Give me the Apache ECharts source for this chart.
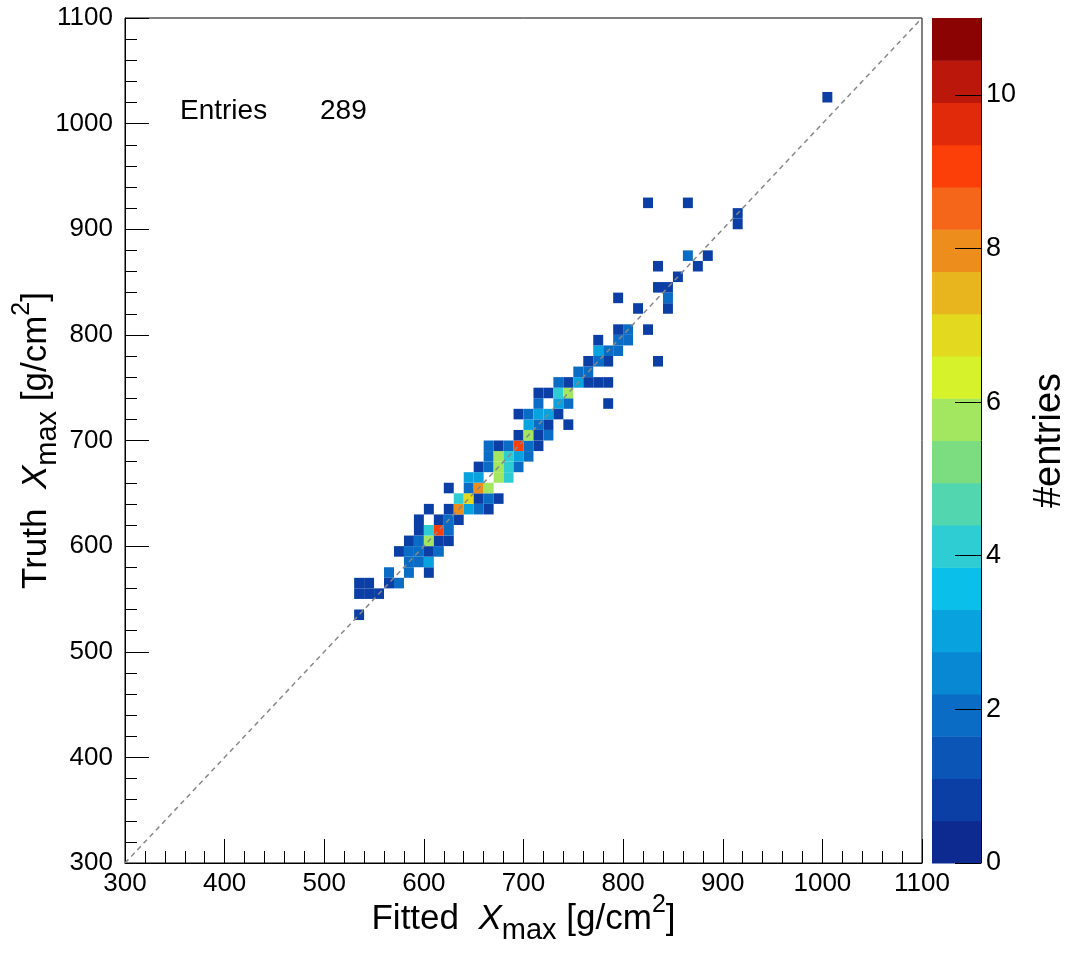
<!DOCTYPE html>
<html><head><meta charset="utf-8">
<script src="https://cdn.jsdelivr.net/npm/echarts@6/dist/echarts.min.js"></script>
<style>html,body{margin:0;padding:0;background:#fff}#c{width:1069px;height:957px}</style>
</head><body><div id="c"></div>
<script>
// ---- data ----
const binWidth = 10;
const axisMin = 300;
const axisMax = 1100;
const axisStep = 100;
const zMax = 11;
const nLevels = 20;
const colorbarTicks = [0, 2, 4, 6, 8, 10];
const entries = 289;
const paletteColors = [
  '#0c2a8f', '#0b3fa6', '#0a55b5', '#0a6cc4', '#0887d2',
  '#08a2df', '#0bbfeb', '#2ecdd3', '#52d6b0', '#7cdd80',
  '#a3e760', '#d5f22b', '#e3da1f', '#e8b51f', '#ec8d1c',
  '#f5661a', '#fc3e08', '#e02a0a', '#bb180b', '#8b0303'
];
// [x bin low edge, y bin low edge, count]
const cells = [
  [530,530,1],
  [530,550,1],[540,550,1],[550,550,1],
  [530,560,1],[540,560,1],[560,560,1],[570,560,2],
  [560,570,2],[580,570,2],[600,570,1],
  [580,580,2],[590,580,2],[600,580,3],
  [570,590,1],[580,590,2],[590,590,2],[600,590,1],[610,590,2],
  [580,600,1],[590,600,2],[600,600,6],[610,600,1],[620,600,1],
  [590,610,1],[600,610,4],[610,610,9],[620,610,2],
  [590,620,1],[610,620,1],[620,620,2],[630,620,1],
  [600,630,1],[620,630,1],[630,630,8],[640,630,3],[650,630,2],[660,630,1],
  [630,640,4],[640,640,7],[650,640,1],[660,640,2],[670,640,1],
  [620,650,1],[640,650,2],[650,650,8],[660,650,6],
  [640,660,3],[650,660,3],[660,660,11],[670,660,6],[680,660,4],
  [650,670,1],[660,670,2],[670,670,6],[680,670,4],[690,670,2],
  [660,680,2],[670,680,6],[680,680,4],[690,680,3],[700,680,2],
  [660,690,2],[670,690,1],[680,690,2],[690,690,9],[700,690,2],[710,690,1],
  [690,700,1],[700,700,6],[710,700,1],[720,700,2],
  [700,710,3],[710,710,2],[720,710,1],[740,710,1],
  [690,720,1],[700,720,2],[710,720,3],[720,720,3],[730,720,1],
  [710,730,2],[730,730,3],[740,730,2],[780,730,1],
  [710,740,1],[720,740,1],[730,740,4],[740,740,6],
  [730,750,2],[740,750,1],[750,750,3],[760,750,1],[770,750,1],[780,750,1],
  [750,760,2],[760,760,2],
  [760,770,1],[770,770,2],[780,770,1],[830,770,1],
  [770,780,3],[780,780,2],[790,780,2],
  [770,790,1],[790,790,2],[800,790,2],
  [790,800,1],[800,800,2],[820,800,1],
  [810,820,1],[840,820,1],
  [790,830,1],[840,830,2],
  [830,840,1],[840,840,1],
  [850,850,1],
  [830,860,1],[870,860,1],
  [860,870,2],[880,870,1],
  [910,900,1],[910,910,1],
  [820,920,1],[860,920,1],
  [1000,1020,1]
];
const diagonal = [[axisMin, axisMin], [axisMax, axisMax]];

// ---- chart ----
const FONT = 'Liberation Sans, Arial, Helvetica, sans-serif';
const levelStep = zMax / nLevels;
const pieces = paletteColors.map((c, i) => ({ gte: i * levelStep, lt: (i + 1) * levelStep, color: c }));
const bands = paletteColors.map((c, i) => [i * levelStep, (i + 1) * levelStep, i]);
const plainLabel = v => String(v);

const titleRich = {
  n: { fontSize: 35, fontFamily: FONT, color: '#000', lineHeight: 52 },
  i: { fontSize: 35, fontFamily: FONT, color: '#000', fontStyle: 'italic', lineHeight: 52 },
  s: { fontSize: 29, fontFamily: FONT, color: '#000', lineHeight: 28, verticalAlign: 'bottom' },
  p: { fontSize: 25, fontFamily: FONT, color: '#000', lineHeight: 32, verticalAlign: 'top' }
};

const chart = echarts.init(document.getElementById('c'), null, { renderer: 'canvas' });
chart.setOption({
  animation: false,
  backgroundColor: '#fff',
  grid: [
    { left: 125, top: 18, width: 797, height: 845, show: true, borderColor: '#000', borderWidth: 1,
      backgroundColor: 'transparent', outerBoundsMode: 'none', containLabel: false },
    { left: 932, top: 18, width: 49, height: 845, outerBoundsMode: 'none', containLabel: false }
  ],
  xAxis: [
    {
      type: 'value', gridIndex: 0, min: axisMin, max: axisMax, interval: axisStep,
      axisLine: { onZero: false, lineStyle: { color: '#000', width: 1 } },
      axisTick: { inside: true, length: 24, lineStyle: { color: '#000', width: 1 } },
      minorTick: { show: true, splitNumber: 5, length: 12, lineStyle: { color: '#000', width: 1 } },
      splitLine: { show: false },
      axisLabel: { fontSize: 26, color: '#000', fontFamily: FONT, margin: 8, formatter: plainLabel },
      name: '{n|Fitted  }{i|X}{s|max}{n| [g/cm}{p|2}{n|]}',
      nameLocation: 'middle', nameGap: 30, nameMoveOverlap: false,
      nameTextStyle: { rich: titleRich }
    },
    { type: 'value', gridIndex: 1, min: 0, max: 1, show: false }
  ],
  yAxis: [
    {
      type: 'value', gridIndex: 0, min: axisMin, max: axisMax, interval: axisStep,
      axisLine: { onZero: false, lineStyle: { color: '#000', width: 1 } },
      axisTick: { inside: true, length: 24, lineStyle: { color: '#000', width: 1 } },
      minorTick: { show: true, splitNumber: 5, length: 12, lineStyle: { color: '#000', width: 1 } },
      splitLine: { show: false },
      axisLabel: { fontSize: 26, color: '#000', fontFamily: FONT, margin: 12, formatter: plainLabel },
      name: '{n|Truth  }{i|X}{s|max}{n| [g/cm}{p|2}{n|]}',
      nameLocation: 'middle', nameGap: 63, nameRotate: 90, nameMoveOverlap: false,
      nameTextStyle: { rich: titleRich }
    },
    {
      type: 'value', gridIndex: 1, position: 'right', min: 0, max: zMax, z: 10,
      axisLine: { show: true, onZero: false, lineStyle: { color: '#000', width: 1 } },
      axisTick: { show: true, inside: true, length: 26, customValues: colorbarTicks, lineStyle: { color: '#000', width: 1 } },
      axisLabel: { show: true, customValues: colorbarTicks, fontSize: 27, color: '#000', fontFamily: FONT, margin: 5, formatter: plainLabel },
      splitLine: { show: false },
      name: '#entries', nameLocation: 'middle', nameGap: 50, nameRotate: 90,
      nameTextStyle: { fontSize: 38, fontFamily: FONT, color: '#000' }
    }
  ],
  visualMap: {
    type: 'piecewise', show: false, seriesIndex: 0, dimension: 2, pieces: pieces
  },
  series: [
    {
      type: 'custom', xAxisIndex: 0, yAxisIndex: 0, data: cells,
      encode: { x: 0, y: 1 },
      renderItem: function (params, api) {
        const x = api.value(0), y = api.value(1);
        const p0 = api.coord([x, y + binWidth]);
        const p1 = api.coord([x + binWidth, y]);
        return { type: 'rect', shape: { x: p0[0], y: p0[1], width: p1[0] - p0[0], height: p1[1] - p0[1] },
                 style: { fill: api.visual('color'), stroke: null } };
      },
      z: 2
    },
    {
      type: 'line', xAxisIndex: 0, yAxisIndex: 0, data: diagonal, symbol: 'none',
      lineStyle: { color: '#888', width: 1.5, type: [5, 4] }, z: 5, silent: true
    },
    {
      type: 'custom', xAxisIndex: 1, yAxisIndex: 1, data: bands,
      renderItem: function (params, api) {
        const lo = api.value(0), hi = api.value(1), idx = api.value(2);
        const p0 = api.coord([0, hi]);
        const p1 = api.coord([1, lo]);
        return { type: 'rect', shape: { x: p0[0], y: p0[1], width: p1[0] - p0[0], height: p1[1] - p0[1] + 0.5 },
                 style: { fill: paletteColors[idx] } };
      },
      z: 1
    }
  ],
  graphic: [
    { type: 'text', left: 180, top: 97, style: { text: 'Entries', font: '28px ' + FONT, fill: '#000' } },
    { type: 'text', left: 320, top: 97, style: { text: String(entries), font: '28px ' + FONT, fill: '#000' } }
  ]
});
</script>
</body></html>
